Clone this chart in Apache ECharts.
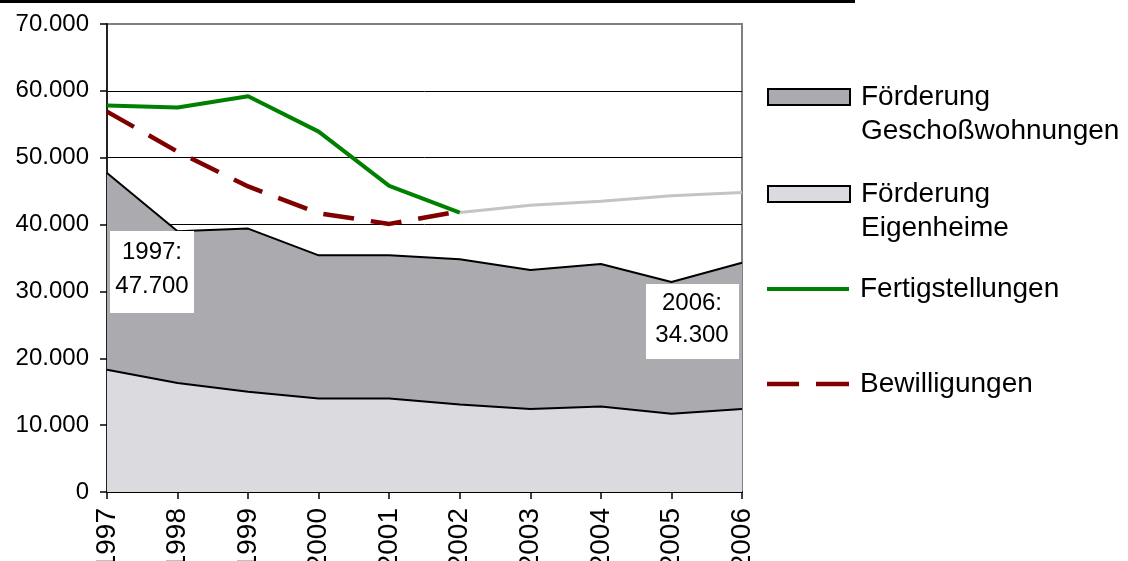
<!DOCTYPE html>
<html><head><meta charset="utf-8">
<script src="https://cdn.jsdelivr.net/npm/echarts@6/dist/echarts.min.js"></script>
<style>html,body{margin:0;padding:0;background:#fff}#c{width:1128px;height:561px}</style>
</head><body><div id="c"></div>
<script>
const years = ['1997','1998','1999','2000','2001','2002','2003','2004','2005','2006'];
const eigenheime = [18300,16300,15000,14000,14000,13100,12400,12800,11700,12400];
const geschoss = [29400,22700,24400,21400,21400,21700,20800,21300,19700,21900];
const fertigstellungen = [57800,57500,59200,53900,45800,41800,null,null,null,null];
const fertigTrend = [null,null,null,null,null,41800,42900,43500,44300,44800];
const bewilligungen = [56900,50900,45700,41700,40100,42000,null,null,null,null];
const notes = ['1997:\n47.700','2006:\n34.300'];

const FONT = "'Liberation Sans', Arial, sans-serif";
const darkFill = '#aaaaaf';
const lightFill = '#dbdbdf';

const chart = echarts.init(document.getElementById('c'), null, {renderer:'canvas'});
const legendText = {fontSize:28, lineHeight:34, color:'#000', fontFamily:FONT, padding:[0,0,0,6]};
chart.setOption({
  animation:false,
  textStyle:{fontFamily:FONT},
  grid:{left:107, right:386, top:24, bottom:69, containLabel:false, outerBoundsMode:'none',
        show:true, borderColor:'#808080', borderWidth:2, backgroundColor:'transparent'},
  xAxis:{
    type:'category', data:years, boundaryGap:false,
    axisLine:{lineStyle:{color:'#000', width:2}},
    axisTick:{show:true, inside:false, length:7, lineStyle:{color:'#000', width:1.5}},
    axisLabel:{rotate:90, fontSize:28, color:'#000', margin:16, fontFamily:FONT},
    splitLine:{show:false}
  },
  yAxis:{
    type:'value', min:0, max:70000, interval:10000,
    axisLine:{show:true, lineStyle:{color:'#222', width:2}},
    axisTick:{show:true, inside:false, length:7, lineStyle:{color:'#000', width:1.5}},
    axisLabel:{fontSize:24, color:'#000', margin:18, fontFamily:FONT,
      formatter:v => v === 0 ? '0' : String(v).replace(/\B(?=(\d{3})+(?!\d))/g, '.')},
    splitLine:{show:true, showMaxLine:false, lineStyle:{color:'#000', width:1}}
  },
  legend:[
    {left:767, top:46, padding:0, orient:'vertical', itemWidth:82, itemHeight:16,
     data:[{name:'Förderung Geschoßwohnungen', icon:'rect', itemStyle:{color:darkFill, borderColor:'#000', borderWidth:2}}],
     formatter:() => '\nFörderung\nGeschoßwohnungen', textStyle:legendText},
    {left:767, top:143, padding:0, orient:'vertical', itemWidth:82, itemHeight:16,
     data:[{name:'Förderung Eigenheime', icon:'rect', itemStyle:{color:lightFill, borderColor:'#000', borderWidth:2}}],
     formatter:() => '\nFörderung\nEigenheime', textStyle:legendText},
    {left:767, top:272, padding:0, orient:'vertical', itemWidth:82, itemHeight:4,
     data:[{name:'Fertigstellungen', icon:'path://M0,0h82v4h-82z', itemStyle:{color:'#008000', borderWidth:0}}], textStyle:legendText},
    {left:767, top:367, padding:0, orient:'vertical', itemWidth:82, itemHeight:4.5,
     data:[{name:'Bewilligungen', icon:'path://M0,0h32v4.5h-32z M49,0h33v4.5h-33z', itemStyle:{color:'#800000', borderWidth:0}}], textStyle:legendText}
  ],
  series:[
    {name:'Förderung Eigenheime', type:'line', stack:'f', data:eigenheime, symbol:'none',
     lineStyle:{color:'#000', width:2}, itemStyle:{color:lightFill}, areaStyle:{color:lightFill, opacity:1}, z:2},
    {name:'Förderung Geschoßwohnungen', type:'line', stack:'f', data:geschoss, symbol:'none',
     lineStyle:{color:'#000', width:2}, itemStyle:{color:darkFill}, areaStyle:{color:darkFill, opacity:1}, z:2},
    {name:'Trend', type:'line', data:fertigTrend, symbol:'none',
     lineStyle:{color:'#c4c4c4', width:3}, itemStyle:{color:'#c4c4c4'}, z:3},
    {name:'Bewilligungen', type:'line', data:bewilligungen, symbol:'none',
     lineStyle:{color:'#800000', width:4.5, type:[31,17]}, itemStyle:{color:'#800000'}, z:4},
    {name:'Fertigstellungen', type:'line', data:fertigstellungen, symbol:'none',
     lineStyle:{color:'#008000', width:4}, itemStyle:{color:'#008000'}, z:5}
  ],
  graphic:[
    {type:'rect', shape:{x:0, y:0, width:855, height:3}, style:{fill:'#000'}},
    {type:'rect', shape:{x:110, y:231, width:84, height:82}, style:{fill:'#fff'}, z:100},
    {type:'text', x:152, y:269, z:101, style:{text:notes[0], fontSize:24, lineHeight:34, align:'center', verticalAlign:'middle', fill:'#000', fontFamily:FONT}},
    {type:'rect', shape:{x:646, y:284, width:93, height:75}, style:{fill:'#fff'}, z:100},
    {type:'text', x:692, y:319, z:101, style:{text:notes[1], fontSize:24, lineHeight:32, align:'center', verticalAlign:'middle', fill:'#000', fontFamily:FONT}}
  ]
});
</script></body></html>
